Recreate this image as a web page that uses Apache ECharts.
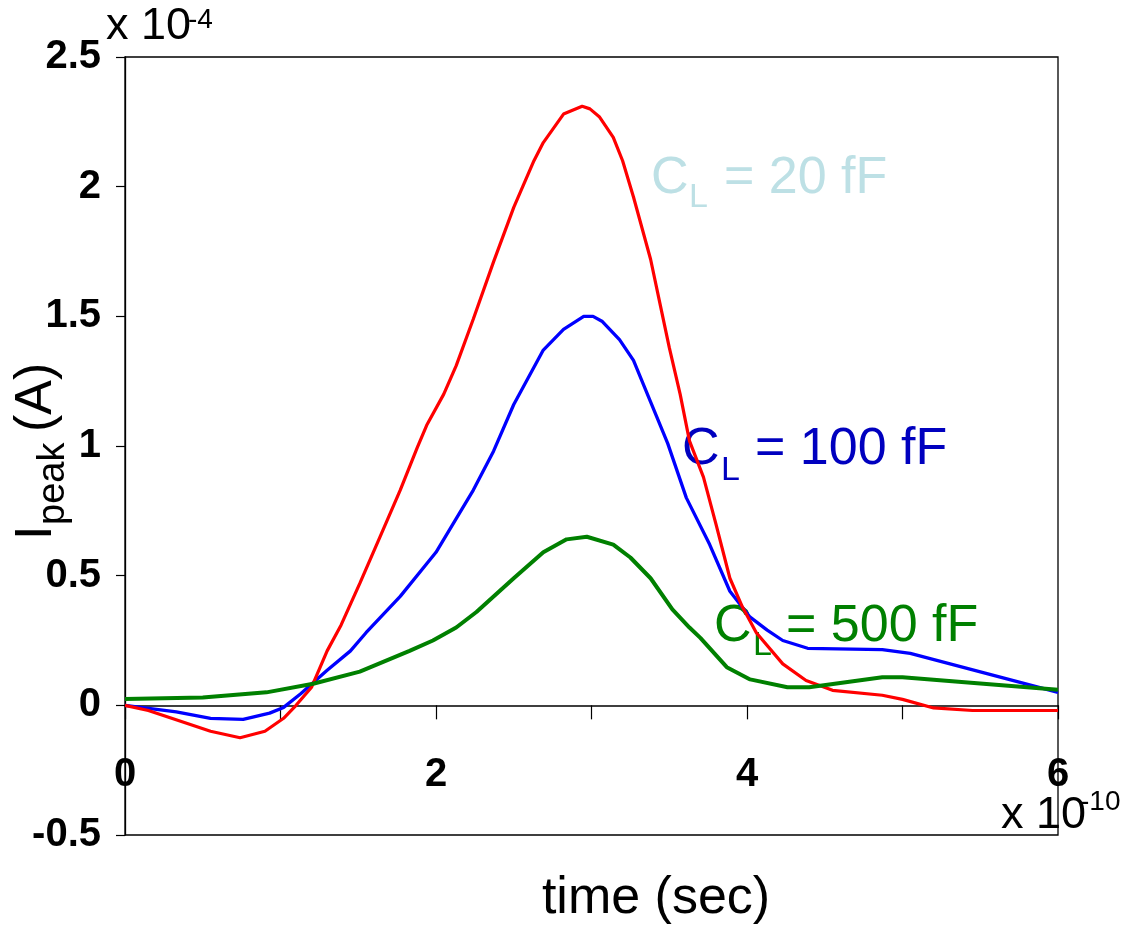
<!DOCTYPE html>
<html>
<head>
<meta charset="utf-8">
<script src="https://cdn.jsdelivr.net/npm/echarts@6/dist/echarts.min.js"></script>
<style>
html,body{margin:0;padding:0;background:#fff;}
#chart{width:1125px;height:927px;}
</style>
</head>
<body>
<div id="chart"></div>
<script>
// time in units of 1e-10 s, current in units of 1e-4 A
const tRed = [0, 0.15, 0.3, 0.55, 0.74, 0.9, 1.02, 1.1, 1.2, 1.3, 1.39, 1.51, 1.64, 1.77, 1.88, 1.94, 2.05, 2.13, 2.24, 2.37, 2.5, 2.63, 2.69, 2.82, 2.94, 2.99, 3.05, 3.14, 3.2, 3.27, 3.38, 3.44, 3.5, 3.57, 3.63, 3.72, 3.8, 3.89, 3.97, 4.06, 4.23, 4.38, 4.55, 4.87, 5.0, 5.2, 5.45, 6.0];
const vRed = [0, -0.02, -0.05, -0.1, -0.125, -0.1, -0.05, 0, 0.07, 0.21, 0.31, 0.47, 0.65, 0.83, 0.995, 1.08, 1.2, 1.31, 1.49, 1.71, 1.92, 2.1, 2.17, 2.28, 2.31, 2.30, 2.27, 2.19, 2.10, 1.96, 1.72, 1.55, 1.38, 1.2, 1.02, 0.88, 0.70, 0.49, 0.38, 0.28, 0.16, 0.096, 0.058, 0.039, 0.023, -0.01, -0.02, -0.02];

const tBlue = [0, 0.33, 0.55, 0.76, 0.93, 1.02, 1.13, 1.3, 1.45, 1.55, 1.77, 2.0, 2.13, 2.24, 2.37, 2.5, 2.69, 2.82, 2.95, 3.01, 3.07, 3.18, 3.27, 3.38, 3.49, 3.61, 3.76, 3.89, 4.02, 4.13, 4.23, 4.39, 4.87, 5.05, 6.0];
const vBlue = [0, -0.025, -0.05, -0.054, -0.03, -0.008, 0.045, 0.135, 0.21, 0.28, 0.42, 0.59, 0.72, 0.83, 0.98, 1.16, 1.37, 1.45, 1.50, 1.50, 1.48, 1.41, 1.33, 1.17, 1.01, 0.80, 0.62, 0.44, 0.34, 0.29, 0.25, 0.22, 0.215, 0.20, 0.05];

const tGreen = [0, 0.5, 0.91, 1.21, 1.51, 1.83, 1.98, 2.13, 2.26, 2.5, 2.69, 2.84, 2.97, 3.14, 3.25, 3.38, 3.52, 3.63, 3.7, 3.87, 4.02, 4.26, 4.4, 4.87, 5.0, 6.0];
const vGreen = [0.024, 0.03, 0.05, 0.083, 0.13, 0.21, 0.25, 0.30, 0.36, 0.49, 0.59, 0.64, 0.65, 0.62, 0.57, 0.49, 0.37, 0.30, 0.26, 0.147, 0.10, 0.07, 0.07, 0.108, 0.108, 0.06];

const seriesNames = ['C_L = 20 fF', 'C_L = 100 fF', 'C_L = 500 fF'];
const xTickLabels = ['0', '2', '4', '6'];
const xLabel = 'time (sec)';
const yLabelMain = 'I';
const yLabelSub = 'peak';
const yLabelUnit = '(A)';

function pairs(t, v) { return t.map((x, i) => [x, v[i]]); }

const REG = "'Liberation Sans', Arial, Helvetica, sans-serif";
const TICKFONT = "'Liberation Sans Narrow', 'Arial Narrow', 'Liberation Sans', Arial, sans-serif";

function txt(x, baseline, text, size, color, align) {
  return {
    type: 'text', x: x, y: baseline - 0.3465 * size, silent: true,
    style: { text: text, fill: color, font: size + 'px ' + REG, textAlign: align || 'left', textVerticalAlign: 'middle' }
  };
}

const chart = echarts.init(document.getElementById('chart'));
const option = {
  animation: false,
  backgroundColor: '#ffffff',
  grid: { left: 125, right: 67, top: 57, bottom: 92, show: true, borderColor: '#000', borderWidth: 1.3, backgroundColor: 'transparent' },
  xAxis: {
    type: 'value', min: 0, max: 6, interval: 1,
    axisLine: { onZero: true, lineStyle: { color: '#000', width: 1.5 } },
    axisTick: { show: true, inside: false, length: 14, lineStyle: { color: '#000', width: 1.2 } },
    axisLabel: {
      margin: -80, fontFamily: TICKFONT, fontWeight: 'bold', fontSize: 40, color: '#000',
      formatter: function (v) { const i = xTickLabels.indexOf(String(v)); return i >= 0 ? xTickLabels[i] : ''; }
    },
    splitLine: { show: false }
  },
  yAxis: {
    type: 'value', min: -0.5, max: 2.5, interval: 0.5,
    axisLine: { show: true, onZero: false, lineStyle: { color: '#000', width: 1.3 } },
    axisTick: { show: true, inside: false, length: 9, lineStyle: { color: '#000', width: 1.2 } },
    axisLabel: { margin: 24, fontFamily: TICKFONT, fontWeight: 'bold', fontSize: 40, color: '#000' },
    splitLine: { show: false }
  },
  series: [
    { name: seriesNames[1], type: 'line', data: pairs(tBlue, vBlue), showSymbol: false, lineStyle: { color: '#0000ff', width: 3.3 }, itemStyle: { color: '#0000ff' }, z: 2 },
    { name: seriesNames[0], type: 'line', data: pairs(tRed, vRed), showSymbol: false, lineStyle: { color: '#ff0000', width: 3.2 }, itemStyle: { color: '#ff0000' }, z: 3 },
    { name: seriesNames[2], type: 'line', data: pairs(tGreen, vGreen), showSymbol: false, lineStyle: { color: '#008000', width: 4 }, itemStyle: { color: '#008000' }, z: 4 }
  ],
  graphic: [
    // exponent labels
    txt(106, 42, 'x 10', 45, '#000'),
    txt(188, 30, '-4', 28, '#000'),
    txt(1001, 831, 'x 10', 45, '#000'),
    txt(1080, 812, '-10', 28, '#000'),
    // x title
    txt(656, 917, xLabel, 52, '#000', 'center'),
    // y title (rotated)
    {
      type: 'group', x: 55, y: 540, rotation: Math.PI / 2, silent: true,
      children: [
        txt(0, 0, yLabelMain, 52, '#000'),
        txt(15, 12, yLabelSub, 38, '#000'),
        txt(108, 0, yLabelUnit, 52, '#000')
      ]
    },
    // series annotations
    txt(651, 197, 'C', 52, '#bde0e5'),
    txt(689, 209, 'L', 34, '#bde0e5'),
    txt(724, 197, '= 20 fF', 52, '#bde0e5'),
    txt(682, 468, 'C', 52, '#0000bf'),
    txt(721, 482, 'L', 34, '#0000bf'),
    txt(755, 468, '= 100 fF', 52, '#0000bf'),
    txt(714, 645, 'C', 52, '#008000'),
    txt(753, 657, 'L', 34, '#008000'),
    txt(786, 645, '= 500 fF', 52, '#008000')
  ]
};
chart.setOption(option);
</script>
</body>
</html>
